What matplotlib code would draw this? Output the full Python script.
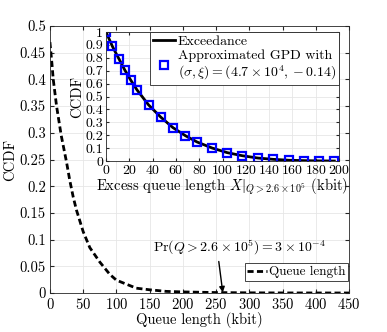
import matplotlib
matplotlib.use('Agg')
import matplotlib.pyplot as plt

plt.rcParams['font.family'] = ['cmr10', 'DejaVu Serif']
plt.rcParams['mathtext.fontset'] = 'cm'
plt.rcParams['axes.formatter.use_mathtext'] = True
plt.rcParams['axes.unicode_minus'] = False

# Main curve: CCDF of queue length (kbit)
queue_kbit = [0, 3, 5, 10, 17, 25, 30, 35, 40, 50, 60, 75, 90, 100, 130, 150,
              175, 200, 250, 300, 350, 400, 450]
queue_ccdf = [0.47, 0.43, 0.40, 0.35, 0.295, 0.245, 0.21, 0.18, 0.155, 0.115,
              0.085, 0.058, 0.035, 0.024, 0.009, 0.006, 0.003, 0.002, 0.0008,
              0.0003, 0.0001, 0.00005, 0.0]

# Inset: exceedance curve and GPD approximation
excess_kbit = [0, 5.5, 11, 16, 21, 26.5, 36.5, 47, 57.4, 68, 78, 91, 104, 117,
               130.5, 143.6, 157, 170, 183, 196]
exceed_ccdf = [1.0, 0.888, 0.793, 0.707, 0.63, 0.552, 0.435, 0.34, 0.259, 0.197,
               0.148, 0.101, 0.065, 0.041, 0.023, 0.013, 0.006, 0.003, 0.001, 0.0]
gpd_ccdf = [1.0, 0.888, 0.793, 0.707, 0.63, 0.552, 0.435, 0.34, 0.259, 0.197,
            0.148, 0.101, 0.065, 0.041, 0.023, 0.013, 0.005, 0.003, 0.001, 0.0]

fig = plt.figure(figsize=(3.87, 3.32), dpi=100)

# main axes
ax = fig.add_axes([0.129, 0.1175, 0.773, 0.804])
ax.plot(queue_kbit, queue_ccdf, color='black', lw=2, dashes=(2.2, 1.2),
        label='Queue length')
ax.set_xlim(0, 450)
ax.set_ylim(0, 0.5)
ax.set_xticks(range(0, 451, 50))
ax.set_yticks([i * 0.05 for i in range(11)])
ax.set_yticklabels(['0', '0.05', '0.1', '0.15', '0.2', '0.25', '0.3', '0.35',
                    '0.4', '0.45', '0.5'])
ax.grid(True, color='#e6e6e6', lw=0.6)
ax.set_axisbelow(True)
ax.tick_params(direction='in', labelsize=10.5, length=3, pad=3, color='#262626',
               top=True, right=True)
for s in ax.spines.values():
    s.set_color('#262626')
    s.set_linewidth(0.6)
ax.set_xlabel('Queue length (kbit)', fontsize=10.5, labelpad=0)
ax.set_ylabel('CCDF', fontsize=10.5, labelpad=2)
leg = ax.legend(loc='lower right', bbox_to_anchor=(0.997, 0.045), fontsize=9.5,
                fancybox=False, edgecolor='#262626', framealpha=1,
                handlelength=1.5, handletextpad=0.15, borderpad=0.2,
                borderaxespad=0)
leg.get_frame().set_linewidth(0.6)
ax.text(285, 0.086, r'$\Pr(Q > 2.6\times10^5) = 3\times10^{-4}$',
        ha='center', va='center', fontsize=10)
ax.annotate('', xy=(260, 0.001), xytext=(254, 0.059),
            arrowprops=dict(arrowstyle='-|>', color='black', lw=1,
                            mutation_scale=8, shrinkA=0, shrinkB=0))

# inset axes
ins = fig.add_axes([0.274, 0.515, 0.602, 0.3886])
ins.plot(excess_kbit, exceed_ccdf, '-', color='black', lw=2, label='Exceedance')
ins.plot(excess_kbit, gpd_ccdf, 's', mfc='none', mec='#0000ff', mew=1.6, ms=5.5,
         label='Approximated GPD with\n' + r'$(\sigma,\xi) = (4.7\times10^4, -0.14)$')
ins.set_xlim(0, 200)
ins.set_ylim(0, 1)
ins.set_xticks(range(0, 201, 20))
ins.set_yticks([i / 10 for i in range(11)])
ins.set_yticklabels(['0', '0.1', '0.2', '0.3', '0.4', '0.5', '0.6', '0.7',
                     '0.8', '0.9', '1'])
ins.grid(True, color='#e6e6e6', lw=0.6)
ins.set_axisbelow(True)
ins.tick_params(direction='in', labelsize=10, length=2.5, pad=2, color='#262626',
                top=True, right=True)
for s in ins.spines.values():
    s.set_color('#262626')
    s.set_linewidth(0.6)
ins.set_xlabel(r'Excess queue length $X|_{Q>2.6\times10^5}$ (kbit)',
               fontsize=10.5, labelpad=0)
ins.set_ylabel('CCDF', fontsize=10.5, labelpad=1)
leg2 = ins.legend(loc='upper right', fontsize=10, fancybox=False,
                  edgecolor='#262626', framealpha=1, handlelength=1.6,
                  handletextpad=0.2, borderpad=0.2, borderaxespad=0,
                  labelspacing=0.1)
leg2.get_frame().set_linewidth(0.6)

fig.savefig('out.png', dpi=100)
